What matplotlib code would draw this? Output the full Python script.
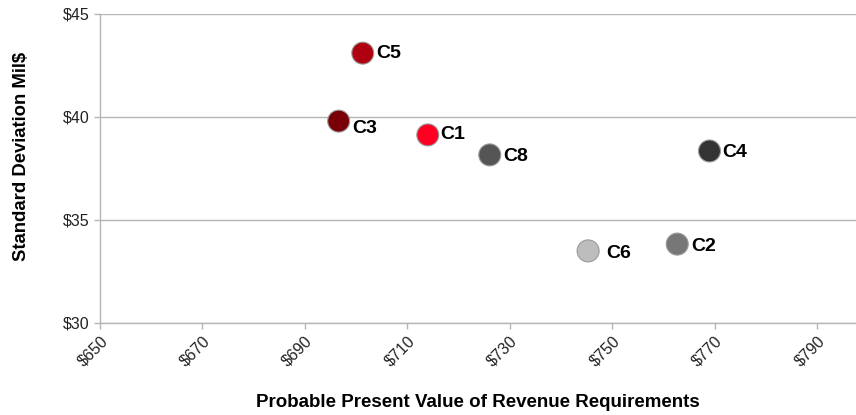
import matplotlib.pyplot as plt

plt.rcParams['font.family'] = ['Liberation Sans', 'DejaVu Sans']

# data
names = ['C5', 'C3', 'C1', 'C8', 'C4', 'C6', 'C2']
ppvrr = [701.3, 696.6, 714.0, 726.1, 769.0, 745.3, 762.7]
stdev = [43.1, 39.8, 39.13, 38.16, 38.35, 33.5, 33.83]
colors = ['#ae0010', '#780006', '#ff0022', '#555555', '#333333', '#bdbdbd', '#777777']
# label offsets in points (dx, dy)
offsets = [(10, 0), (10, -5), (9, 0), (10, -1), (9, -1), (13, -2), (10, -2)]

xticks = [650, 670, 690, 710, 730, 750, 770, 790]
yticks = [30, 35, 40, 45]

fig = plt.figure(figsize=(8.56, 4.15), dpi=100)
ax = fig.add_axes([0.1168, 0.2217, 0.8832, 0.7446])

ax.scatter(ppvrr, stdev, s=250, c=colors, edgecolors='#9a9a9a', linewidths=0.8, zorder=3)
for n, x, y, (dx, dy) in zip(names, ppvrr, stdev, offsets):
    ax.annotate(n, (x, y), xytext=(dx, dy), textcoords='offset points',
                ha='left', va='center', fontsize=14, fontweight='bold', zorder=4)

ax.set_xlim(650, 797.6)
ax.set_ylim(30, 45)
ax.set_xticks(xticks)
ax.set_xticklabels(['$%d' % v for v in xticks], rotation=45, ha='right',
                   rotation_mode='anchor', fontsize=11.5)
ax.set_yticks(yticks)
ax.set_yticklabels(['$%d' % v for v in yticks], fontsize=11.5)

ax.yaxis.grid(True, color='#b5b5b5', linewidth=1)
ax.set_axisbelow(True)
for side in ['top', 'right']:
    ax.spines[side].set_visible(False)
for side in ['left', 'bottom']:
    ax.spines[side].set_color('#b5b5b5')
    ax.spines[side].set_linewidth(1)
ax.tick_params(axis='both', colors='#b5b5b5', length=4, width=1, labelcolor='#222222')

ax.set_xlabel('Probable Present Value of Revenue Requirements', fontsize=13.5,
              fontweight='bold', labelpad=18)
ax.set_ylabel('Standard Deviation Mil$', fontsize=13.3, fontweight='bold')
ax.yaxis.set_label_coords(-0.092, 0.54)

fig.savefig('out.png', dpi=100)
